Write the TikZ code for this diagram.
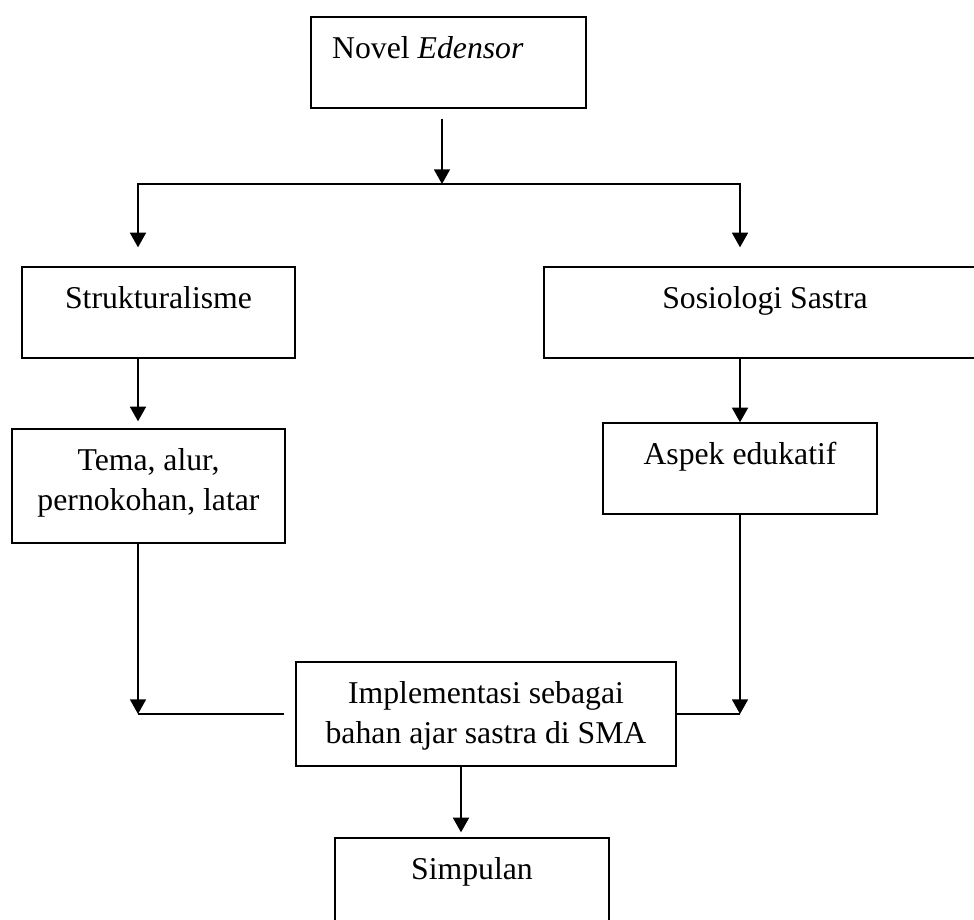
\documentclass[tikz,border=0pt]{standalone}
\usepackage{fontspec}
\setmainfont{Liberation Serif}
\usetikzlibrary{arrows.meta,positioning}

\begin{document}
\begin{tikzpicture}[x=0.75pt, y=-0.75pt, line width=1.3pt,
  box/.style={draw, line width=1pt, inner sep=0pt, minimum width=205pt, minimum height=68.25pt},
  txt/.style={inner sep=0pt, align=center, font=\fontsize{23.8}{30}\selectfont},
  >={Triangle[length=11pt,width=12pt]}]
 \useasboundingbox (0,0) rectangle (974,920);
 \clip (0,0) rectangle (974,920);
 \node[box, minimum width=206.25pt] (novel) at (448.5,62.5) {};
 \node[box, minimum width=204.75pt] (struk) at (158.5,312.5) {};
 \node[box, minimum width=331.5pt] (sosio) at (765,312.5) {};
 \node[box, minimum width=204.75pt, minimum height=85.5pt] (tema) at (148.5,486) {};
 \node[box, minimum width=205.5pt] (aspek) at (740,468.5) {};
 \node[box, minimum width=285pt, minimum height=78pt] (impl) at (486,714) {};
 \node[box, minimum width=205.5pt] (simp) at (472,883.5) {};
 \node[txt, below right=9.75pt and 15.75pt of novel.north west] (novelT) {\strut Novel \textit{Edensor}};
 \node[txt, below=9.75pt of struk.north] (strukT) {\strut Strukturalisme};
 \node[txt, below=9.75pt of sosio.north] (sosioT) {\strut Sosiologi Sastra};
 \node[txt, below=9.75pt of tema.north] (temaT) {\strut Tema, alur,\\ pernokohan, latar};
 \node[txt, below=9.75pt of aspek.north] (aspekT) {\strut Aspek edukatif};
 \node[txt, below=9.75pt of impl.north] (implT) {\strut Implementasi sebagai\\ bahan ajar sastra di SMA};
 \node[txt, below=9.75pt of simp.north] (simpT) {\strut Simpulan};
 \coordinate (fork) at (442,184);
 \coordinate (forkL) at (138,184);
 \coordinate (forkR) at (740,184);
 \coordinate (jl) at (138,714);
 \coordinate (jr) at (740,714);
 \coordinate (down) at (461,790);
 \draw[->, shorten <=7.5pt] (novel.south -| fork) -- (fork);
 \draw[<->, shorten <=14.25pt, shorten >=14.25pt] (struk.north -| forkL) -- (forkL) -- (forkR) -- (sosio.north -| forkR);
 \draw[->, shorten >=5.25pt] (struk.south -| forkL) -- (tema.north -| forkL);
 \draw[->] (sosio.south -| forkR) -- (aspek.north);
 \draw[->] (tema.south -| jl) -- (jl);
 \draw[shorten >=8.25pt] (jl) -- (impl.west);
 \draw[->] (aspek.south) -- (jr);
 \draw (impl.east) -- (jr);
 \draw[->, shorten >=3.75pt] (impl.south -| down) -- (simp.north -| down);
\end{tikzpicture}
\end{document}
